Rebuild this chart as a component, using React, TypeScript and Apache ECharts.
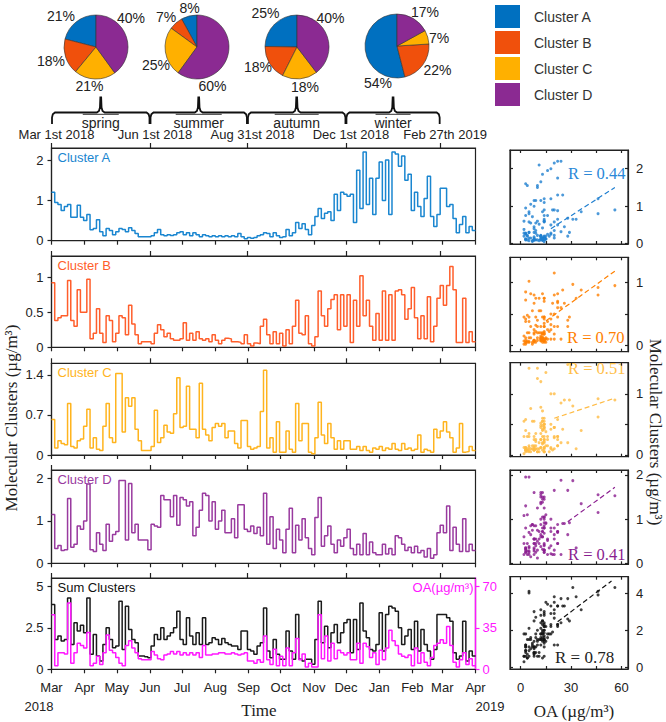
import React, { useEffect, useRef } from 'react';
import * as echarts from 'echarts';

// ---------- tick positions / labels (days since 1 Mar 2018) ----------
const monthDays = [0, 31, 61, 92, 122, 153, 184, 214, 245, 275, 306, 337, 365, 396];
const monthLabels = ['Mar', 'Apr', 'May', 'Jun', 'Jul', 'Aug', 'Sep', 'Oct', 'Nov', 'Dec', 'Jan', 'Feb', 'Mar', 'Apr'];
const seasonDays = [0, 92, 183, 275, 363];
const seasonLabels = ['Mar 1st 2018', 'Jun 1st 2018', 'Aug 31st 2018', 'Dec 1st 2018', 'Feb 27th 2019'];
const seasonNames = ['spring', 'summer', 'autumn', 'winter'];
const yearLabels = ['2018', '2019'];

// ---------- pies (% per season) ----------
const clusterNames = ['Cluster A', 'Cluster B', 'Cluster C', 'Cluster D'];
const pieSpring = [21, 18, 21, 40];
const pieSummer = [8, 7, 25, 60];
const pieAutumn = [25, 18, 18, 40];
const pieWinter = [54, 22, 7, 17];

// ---------- time series, one value per 3-day step from 1 Mar 2018 ----------
const STEP_DAYS = 3;
const clusterA = [
  1.2, 0.95, 0.9, 0.75, 0.85, 0.9, 0.58, 0.58, 0.88, 0.58, 0.5,
  0.65, 0.27, 0.3, 0.52, 0.22, 0.12, 0.3, 0.25, 0.15, 0.22,
  0.3, 0.28, 0.22, 0.32, 0.25, 0.18, 0.1, 0.1, 0.1, 0.1,
  0.12, 0.2, 0.28, 0.15, 0.12, 0.15, 0.13, 0.15, 0.2, 0.22,
  0.15, 0.2, 0.12, 0.2, 0.15, 0.1, 0.15, 0.12, 0.1, 0.12,
  0.1, 0.12, 0.1, 0.12, 0.1, 0.12, 0.1, 0.18, 0.1, 0.05, 0.08,
  0.06, 0.08, 0.12, 0.15, 0.2, 0.18, 0.1, 0.2, 0.12, 0.08,
  0.1, 0.28, 0.12, 0.2, 0.45, 0.3, 0.42, 0.28, 0.15, 0.38,
  0.6, 0.8, 0.55, 0.68, 0.72, 0.5, 1.15, 0.75, 1.2, 1.15,
  1.1, 1.15, 0.45, 1.75, 0.8, 2.2, 0.9, 1.55, 0.65, 1.55,
  1.95, 1.0, 2.0, 0.65, 2.2, 2.15, 1.85, 2.1, 1.5, 1.65, 0.75,
  1.2, 0.85, 0.6, 1.05, 1.6, 0.6, 0.35, 0.65, 1.3,
  1.3, 0.85, 0.9, 0.55, 0.2, 0.4, 0.6, 0.2, 0.35, 0.25,
];
const clusterB = [
  0.92, 0.38, 0.42, 0.45, 0.45, 0.95, 0.38, 0.3, 0.82, 0.5, 0.5,
  0.97, 0.12, 0.2, 0.55, 0.2, 0.07, 0.45, 0.38, 0.08, 0.2,
  0.45, 0.42, 0.18, 0.6, 0.33, 0.18, 0.05, 0.08, 0.08, 0.08,
  0.05, 0.2, 0.32, 0.25, 0.15, 0.2, 0.12, 0.1, 0.1, 0.12,
  0.35, 0.1, 0.2, 0.1, 0.22, 0.12, 0.1, 0.12, 0.08, 0.18,
  0.1, 0.05, 0.1, 0.13, 0.12, 0.08, 0.08, 0.07, 0.05, 0.18, 0.05,
  0.02, 0.06, 0.05, 0.3, 0.4, 0.18, 0.05, 0.22, 0.05, 0.2,
  0.02, 0.25, 0.05, 0.3, 0.67, 0.2, 0.18, 0.45, 0.05, 0.02,
  0.15, 0.8, 0.45, 0.3, 0.55, 0.68, 0.75, 0.25, 0.75, 0.3,
  0.75, 0.07, 0.67, 0.3, 1.02, 0.45, 0.67, 0.3, 0.1, 0.48,
  0.1, 0.8, 0.1, 0.75, 0.1, 0.8, 0.82, 0.75, 0.4, 0.55, 0.85,
  0.42, 0.12, 0.45, 0.12, 0.72, 0.08, 0.3, 0.7, 0.88,
  0.6, 0.88, 1.15, 0.82, 0.07, 0.07, 0.7, 0.07, 0.22, 0.08,
];
const clusterC = [
  0.62, 0.12, 0.25, 0.2, 0.18, 0.9, 0.15, 0.12, 0.25, 0.28, 0.5,
  0.8, 0.12, 0.3, 0.1, 0.08, 0.5, 0.9, 0.3, 0.22, 1.42,
  1.42, 0.4, 1.0, 0.85, 1.0, 0.45, 0.25, 0.08, 0.08, 0.08,
  0.15, 0.78, 0.22, 0.3, 0.52, 0.4, 0.38, 0.72, 1.35, 0.48,
  0.5, 1.2, 0.45, 0.45, 0.3, 1.25, 0.45, 0.35, 0.25, 0.48,
  0.55, 0.5, 0.55, 0.3, 0.42, 0.42, 0.2, 0.12, 0.6, 0.6, 0.15,
  0.1, 0.12, 0.15, 0.76, 1.48, 0.12, 0.3, 0.05, 0.58, 0.05,
  0.05, 0.42, 0.1, 0.05, 0.9, 0.25, 0.55, 0.55, 0.05, 0.02,
  0.3, 0.92, 0.35, 0.2, 0.55, 0.3, 0.1, 0.25, 0.1, 0.25,
  0.25, 0.1, 0.1, 0.15, 0.08, 0.15, 0.08, 0.05, 0.12, 0.1,
  0.15, 0.08, 0.12, 0.1, 0.2, 0.1, 0.08, 0.2, 0.1, 0.12, 0.08,
  0.1, 0.35, 0.05, 0.1, 0.08, 0.05, 0.45, 0.3, 0.42,
  0.58, 0.4, 0.3, 0.05, 0.12, 0.55, 0.05, 0.06, 0.15, 0.08,
];
const clusterD = [
  1.15, 0.35, 0.42, 0.3, 0.32, 1.53, 0.38, 0.45, 0.88, 0.8, 1.0,
  1.87, 0.32, 0.28, 0.72, 0.45, 0.3, 0.92, 0.52, 0.68, 0.75,
  1.95, 1.95, 0.55, 1.88, 0.72, 0.92, 0.55, 0.55, 0.55, 0.32,
  0.92, 0.88, 0.85, 1.6, 1.5, 1.5, 1.1, 1.6, 0.9, 1.55,
  1.5, 1.35, 1.45, 0.65, 0.85, 1.25, 1.65, 1.6, 1.0, 1.45,
  0.8, 1.0, 1.25, 0.72, 0.72, 1.05, 0.6, 1.38, 1.38, 0.8, 0.75,
  0.88, 0.7, 0.85, 0.65, 1.65, 0.45, 1.1, 0.35, 0.8, 0.55,
  0.25, 0.8, 1.3, 0.25, 0.9, 0.55, 1.05, 0.6, 0.35, 0.2,
  1.08, 1.55, 0.4, 0.65, 0.88, 0.45, 0.25, 0.55, 0.4, 0.6,
  0.8, 0.35, 0.2, 0.45, 0.2, 0.7, 0.2, 0.5, 0.25, 0.2,
  0.2, 0.45, 0.22, 0.35, 0.2, 0.65, 0.6, 0.45, 0.3, 0.38, 0.25,
  0.4, 0.25, 0.3, 0.15, 0.35, 0.12, 0.2, 0.72, 0.9,
  0.72, 1.35, 0.3, 0.85, 0.45, 0.28, 1.05, 0.28, 0.45, 0.3,
];
const sumClusters = [
  3.9, 1.8, 2.0, 1.7, 1.8, 4.3, 1.5, 2.8, 2.3, 2.65, 2.2,
  4.3, 0.9, 2.1, 0.8, 0.5, 1.5, 2.5, 1.8, 1.3, 1.4,
  4.1, 1.2, 3.8, 2.4, 1.8, 1.6, 0.8, 0.8, 0.75, 0.7,
  1.4, 2.1, 1.8, 2.5, 1.8, 2.0, 2.2, 2.5, 3.5, 1.8,
  1.5, 3.1, 2.0, 1.5, 2.2, 1.5, 3.1, 1.5, 1.6, 1.9,
  1.8, 1.5, 1.85, 1.6, 1.5, 1.4, 1.4, 1.2, 2.3, 2.3, 1.2,
  1.1, 0.9, 1.4, 1.6, 3.7, 1.1, 0.7, 1.8, 0.9, 0.6,
  0.6, 2.3, 1.1, 0.6, 3.3, 0.6, 0.5, 0.6, 0.6, 0.3,
  1.8, 4.1, 1.6, 2.6, 1.3, 2.2, 2.7, 1.6, 2.2, 2.8,
  3.0, 1.0, 3.0, 1.2, 4.0, 2.3, 1.9, 1.2, 1.1, 1.5,
  3.4, 1.1, 3.3, 3.8, 3.7, 3.5, 2.5, 1.5, 2.0, 2.4, 1.2,
  2.9, 1.1, 2.4, 1.5, 1.1, 0.6, 1.2, 3.3, 3.3,
  3.3, 3.1, 2.9, 1.0, 0.6, 0.8, 2.9, 0.5, 1.1, 0.8,
];
const oa = [
  46, 3, 14, 14, 13, 56, 5, 14, 22, 20, 18,
  31, 3, 5, 11, 4, 14, 29, 16, 14, 10,
  5, 3, 20, 24, 18, 14, 9, 8, 8, 8,
  15, 12, 9, 8, 12, 13, 15, 13, 15, 12,
  14, 12, 14, 12, 14, 10, 20, 12, 12, 13,
  13, 14, 14, 13, 13, 14, 13, 12, 13, 14, 7,
  7, 5, 8, 6, 28, 8, 4, 17, 3, 11,
  3, 18, 3, 14, 26, 8, 13, 2, 5, 2,
  2, 46, 9, 28, 7, 22, 9, 16, 14, 12,
  14, 8, 8, 22, 5, 22, 19, 10, 14, 4,
  16, 8, 18, 33, 24, 20, 13, 11, 10, 12, 3,
  18, 5, 14, 6, 3, 10, 20, 22, 25,
  22, 36, 20, 6, 2, 8, 14, 4, 9, 3,
];

// ---------- regression lines ----------
const fitA = [[18, 0.4], [56, 1.5]];
const fitB = [[15, 0.39], [56, 1.18]];
const fitC = [[20, 0.6], [56, 0.93]];
const fitD = [[28, 0.94], [56, 1.72]];
const fitE = [[22, 2.45], [54, 4.65]];
const rValues = ['R = 0.44', 'R = 0.70', 'R = 0.51', 'R = 0.41', 'R = 0.78'];

// ---------- styling / layout ----------
const SANS = "'Liberation Sans', Arial, Helvetica, sans-serif";
const SERIF = "'Liberation Serif', 'Times New Roman', serif";
const INK = '#222';
const pieColors = ['#0070C0', '#F0500C', '#FFB000', '#8B2A92'];
const lineColors = ['#1a86d0', '#ff5e2b', '#ffb41e', '#993a9f', '#1a1a1a'];
const oaColor = '#ff17ff';
const dotColors = ['#1f7fd0', '#ff8000', '#ffbb44', '#8a1d8f', '#111111'];
const rColors = ['#2a88d8', '#ff8000', '#ffc04a', '#8a1d8f', '#222222'];
const panelLabels = ['Cluster A', 'Cluster B', 'Cluster C', 'Cluster D', 'Sum Clusters'];
const panelLabelColors = ['#1a86d0', '#ff5e2b', '#ffb41e', '#993a9f', '#111'];

const TS_LEFT = 51.5;
const TS_W = 424;
const tsLayout = [
  { top: 148, height: 92.7 },
  { top: 256, height: 91.3 },
  { top: 363.3, height: 91.7 },
  { top: 470, height: 93.3 },
  { top: 578, height: 91.3 },
];
const tsRange = [[0, 2.3], [0, 1.3], [0, 1.6], [0, 2.2], [0, 5.5]];
const tsTicks = [[0, 1, 2], [0, 0.5, 1], [0, 0.7, 1.4], [0, 1, 2], [0, 2.5, 5]];
const oaRange = [0, 77];
const oaTicks = [0, 35, 70];

const SC_LEFT = 510;
const SC_W = 118;
const scLayout = [
  { top: 150, height: 94 },
  { top: 257.3, height: 94.4 },
  { top: 362.7, height: 94 },
  { top: 470, height: 94.3 },
  { top: 576.7, height: 92.3 },
];
const scYRange = [[-0.01, 2.5], [-0.1, 1.4], [-0.03, 1.51], [-0.02, 2.11], [-0.09, 4.88]];
const scYLabels = [[0, 1, 2], [0, 1], [0, 1], [0, 1, 2], [0, 2, 4]];
const scYTicks = [[0, 1, 2], [0, 0.5, 1], [0, 0.5, 1], [0, 1, 2], [0, 2, 4]];
const scXRange = [-6.3, 63.8];
const scXTicks = [0, 15, 30, 45, 60];
const scXLabels = [0, 30, 60];

const pieCenters = [[96, 47], [197, 47], [297, 47], [397, 46]];
// label anchor points for each pie (A, B, C, D), placed as in the figure
const pieLabelPos = [
  [[61, 16], [51, 61], [89.5, 86], [131, 18]],
  [[189.5, 7.5], [166, 17], [156, 65], [212.5, 86]],
  [[265.5, 13], [258, 66.7], [305, 87], [330.5, 17.7]],
  [[378, 83], [437.5, 70], [439, 38], [425, 11.7]],
];
const overlineWidths = [36, 46, 44, 35];

function buildOption() {
  const lineStyleAx = { color: INK, width: 1.2 };
  const grids: any[] = [];
  tsLayout.forEach((g) => grids.push({ left: TS_LEFT, width: TS_W, top: g.top, height: g.height, show: true, borderColor: INK, borderWidth: 1.2, backgroundColor: 'transparent', containLabel: false }));
  scLayout.forEach((g) => grids.push({ left: SC_LEFT, width: SC_W, top: g.top, height: g.height, show: true, borderColor: INK, borderWidth: 1.2, backgroundColor: 'transparent', containLabel: false }));

  const xAxes: any[] = [];
  tsLayout.forEach((_, i) => xAxes.push({
    type: 'value', gridIndex: i, min: 0, max: 396, position: 'bottom',
    axisLine: { show: true, onZero: false, lineStyle: lineStyleAx },
    axisTick: { show: true, inside: false, length: 4, customValues: monthDays, lineStyle: lineStyleAx },
    axisLabel: i === 4 ? {
      show: true, customValues: monthDays, margin: 12, fontSize: 13, color: INK, fontFamily: SANS,
      formatter: (v: number) => monthLabels[monthDays.indexOf(Math.round(v))] ?? '',
    } : { show: false },
    splitLine: { show: false },
  }));
  tsLayout.forEach((_, i) => xAxes.push({
    type: 'value', gridIndex: i, min: 0, max: 396, position: 'top',
    axisLine: { show: true, onZero: false, lineStyle: lineStyleAx },
    axisTick: { show: true, inside: false, length: 5, customValues: seasonDays, lineStyle: lineStyleAx },
    axisLabel: i === 0 ? {
      show: true, customValues: seasonDays, margin: 7, fontSize: 13, color: INK, fontFamily: SANS,
      padding: [0, 0, 0, 10],
      formatter: (v: number) => seasonLabels[seasonDays.indexOf(Math.round(v))] ?? '',
    } : { show: false },
    splitLine: { show: false },
  }));
  scLayout.forEach((_, i) => xAxes.push({
    type: 'value', gridIndex: 5 + i, min: scXRange[0], max: scXRange[1], position: 'bottom',
    axisLine: { show: true, onZero: false, lineStyle: lineStyleAx },
    axisTick: { show: true, inside: true, length: 3, customValues: scXTicks, lineStyle: lineStyleAx },
    axisLabel: i === 4 ? { show: true, customValues: scXLabels, margin: 12, fontSize: 13, color: INK, fontFamily: SANS } : { show: false },
    splitLine: { show: false },
  }));
  scLayout.forEach((_, i) => xAxes.push({
    type: 'value', gridIndex: 5 + i, min: scXRange[0], max: scXRange[1], position: 'top',
    axisLine: { show: true, onZero: false, lineStyle: lineStyleAx },
    axisTick: { show: true, inside: true, length: 3, customValues: scXTicks, lineStyle: lineStyleAx },
    axisLabel: { show: false },
    splitLine: { show: false },
  }));

  const yAxes: any[] = [];
  tsLayout.forEach((_, i) => yAxes.push({
    type: 'value', gridIndex: i, min: tsRange[i][0], max: tsRange[i][1], position: 'left',
    axisLine: { show: true, onZero: false, lineStyle: lineStyleAx },
    axisTick: { show: true, inside: false, length: 4, customValues: tsTicks[i], lineStyle: lineStyleAx },
    axisLabel: { show: true, customValues: tsTicks[i], margin: 8, fontSize: 13, color: INK, fontFamily: SANS },
    splitLine: { show: false },
  }));
  yAxes.push({
    type: 'value', gridIndex: 4, min: oaRange[0], max: oaRange[1], position: 'right',
    axisLine: { show: true, onZero: false, lineStyle: { color: oaColor, width: 1.4 } },
    axisTick: { show: true, inside: false, length: 4, customValues: oaTicks, lineStyle: { color: oaColor, width: 1.2 } },
    axisLabel: { show: true, customValues: oaTicks, margin: 7, fontSize: 13, color: oaColor, fontFamily: SANS },
    splitLine: { show: false },
  });
  scLayout.forEach((_, i) => yAxes.push({
    type: 'value', gridIndex: 5 + i, min: scYRange[i][0], max: scYRange[i][1], position: 'right',
    axisLine: { show: true, onZero: false, lineStyle: lineStyleAx },
    axisTick: { show: true, inside: true, length: 3, customValues: scYTicks[i], lineStyle: lineStyleAx },
    axisLabel: { show: true, customValues: scYLabels[i], margin: 8, fontSize: 13, color: INK, fontFamily: SANS },
    splitLine: { show: false },
  }));
  scLayout.forEach((_, i) => yAxes.push({
    type: 'value', gridIndex: 5 + i, min: scYRange[i][0], max: scYRange[i][1], position: 'left',
    axisLine: { show: true, onZero: false, lineStyle: lineStyleAx },
    axisTick: { show: true, inside: true, length: 3, customValues: scYTicks[i], lineStyle: lineStyleAx },
    axisLabel: { show: false },
    splitLine: { show: false },
  }));

  const tsSeriesValues = [clusterA, clusterB, clusterC, clusterD, sumClusters];
  const toStep = (vals: number[]) => {
    const pts = vals.map((v, k) => [k * STEP_DAYS, v]);
    pts.push([396, vals[vals.length - 1]]);
    return pts;
  };
  const series: any[] = [];
  tsSeriesValues.forEach((vals, i) => series.push({
    type: 'line', name: 'ts' + i, xAxisIndex: i, yAxisIndex: i, step: 'end',
    symbol: 'none', showSymbol: false, silent: true,
    lineStyle: { color: lineColors[i], width: 1.5 },
    data: toStep(vals),
  }));
  series.push({
    type: 'line', name: 'OA', xAxisIndex: 4, yAxisIndex: 5, step: 'end',
    symbol: 'none', showSymbol: false, silent: true,
    lineStyle: { color: oaColor, width: 1.5 },
    data: toStep(oa),
  });
  const fits = [fitA, fitB, fitC, fitD, fitE];
  tsSeriesValues.forEach((vals, i) => {
    series.push({
      type: 'scatter', name: 'sc' + i, xAxisIndex: 10 + i, yAxisIndex: 6 + i,
      symbol: 'circle', symbolSize: 3, silent: true,
      itemStyle: { color: dotColors[i] },
      data: vals.map((v, k) => [oa[k], v]),
    });
    series.push({
      type: 'line', name: 'fit' + i, xAxisIndex: 10 + i, yAxisIndex: 6 + i,
      symbol: 'none', showSymbol: false, silent: true,
      lineStyle: { color: dotColors[i], width: 1.2, type: [5, 3] },
      data: fits[i],
    });
  });
  const pies = [pieSpring, pieSummer, pieAutumn, pieWinter];
  pies.forEach((vals, p) => series.push({
    type: 'pie', name: seasonNames[p], center: pieCenters[p], radius: 32,
    startAngle: 90, clockwise: false, avoidLabelOverlap: false, silent: true,
    label: { show: false },
    labelLine: { show: false },
    itemStyle: { borderColor: '#333', borderWidth: 0.6 },
    emphasis: { disabled: true },
    data: clusterNames.map((n, k) => ({ name: n, value: vals[k], itemStyle: { color: pieColors[k] } })),
  }));

  return {
    animation: false,
    backgroundColor: '#ffffff',
    textStyle: { fontFamily: SANS },
    legend: {
      data: clusterNames, orient: 'vertical', left: 495, top: 5, padding: 0,
      itemWidth: 25, itemHeight: 23, itemGap: 3, icon: 'rect', selectedMode: false,
      itemStyle: { borderWidth: 0 },
      textStyle: { fontSize: 14, color: '#333', fontFamily: SANS, padding: [0, 0, 0, 9] },
    },
    grid: grids,
    xAxis: xAxes,
    yAxis: yAxes,
    series,
  };
}

function buildGraphics(px: (d: number) => number) {
  const els: any[] = [];
  const txt = (text: string, x: number, y: number, size: number, color: string, family: string, align = 'center', rotation = 0) => ({
    type: 'text', x, y, rotation, silent: true,
    style: { text, fill: color, fontSize: size, fontFamily: family, align, verticalAlign: 'middle', textAlign: align, textVerticalAlign: 'middle' },
  });
  // pie percentage labels
  const pies = [pieSpring, pieSummer, pieAutumn, pieWinter];
  pies.forEach((vals, p) => vals.forEach((v, k) => {
    els.push(txt(v + '%', pieLabelPos[p][k][0], pieLabelPos[p][k][1], 14, INK, SANS));
  }));
  // braces + season names
  for (let s = 0; s < 4; s++) {
    const xa = px(seasonDays[s]);
    const xb = px(seasonDays[s + 1]);
    const m = (xa + xb) / 2;
    els.push({
      type: 'polyline', silent: true,
      shape: {
        points: [
          [xa + 0.5, 124], [xa + 0.5, 117.5], [xa + 1.3, 114.3], [xa + 3.5, 112.5],
          [m - 4, 112.5], [m - 1.8, 111], [m - 0.8, 107.5], [m - 0.4, 97.5], [m + 0.4, 97.5],
          [m + 0.8, 107.5], [m + 1.8, 111], [m + 4, 112.5],
          [xb - 3.5, 112.5], [xb - 1.3, 114.3], [xb - 0.5, 117.5], [xb - 0.5, 124],
        ],
      },
      style: { stroke: '#111', lineWidth: 1.8, fill: null },
    });
    els.push({
      type: 'line', silent: true,
      shape: { x1: m - overlineWidths[s] / 2, y1: 114.3, x2: m + overlineWidths[s] / 2, y2: 114.3 },
      style: { stroke: '#333', lineWidth: 1 },
    });
    els.push(txt(seasonNames[s], m, 122.5, 14, INK, SANS));
  }
  tsLayout.forEach((g, i) => els.push(txt(panelLabels[i], TS_LEFT + 6, g.top + 9.5, 13, panelLabelColors[i], SANS, 'left')));
  els.push(txt('OA(µg/m³)', TS_LEFT + TS_W - 2, tsLayout[4].top + 9.5, 13, oaColor, SANS, 'right'));
  const rPos = [[568, 173], [567, 337], [568, 368], [568, 554], [555, 657]];
  rValues.forEach((r, i) => els.push(txt(r, rPos[i][0], rPos[i][1], i === 4 ? 17 : 16.5, rColors[i], SERIF, 'left')));
  els.push(txt('Molecular Clusters (µg/m³)', 11, 418, 17, INK, SERIF, 'center', Math.PI / 2));
  els.push(txt('Molecular Clusters (µg/m³)', 655, 432, 17, INK, SERIF, 'center', -Math.PI / 2));
  els.push(txt('Time', 259, 710, 17, INK, SERIF));
  els.push(txt('OA (µg/m³)', 574, 711, 17, INK, SERIF));
  els.push(txt(yearLabels[0], 39, 706, 13, INK, SANS));
  els.push(txt(yearLabels[1], 490, 706, 13, INK, SANS));
  return els;
}

export default function App() {
  const ref = useRef<HTMLDivElement>(null);
  useEffect(() => {
    if (!ref.current) return;
    const chart = echarts.init(ref.current, null, { renderer: 'svg', width: 666, height: 722 });
    chart.setOption(buildOption() as any);
    const px = (d: number) => {
      const v = chart.convertToPixel({ xAxisIndex: 5 } as any, d) as any;
      return typeof v === 'number' ? v : TS_LEFT + (d / 396) * TS_W;
    };
    chart.setOption({ graphic: { elements: buildGraphics(px) } } as any);
    return () => chart.dispose();
  }, []);
  return (
    <div
      ref={ref}
      style={{ position: 'fixed', left: 0, top: 0, width: 666, height: 722, background: '#fff' }}
    />
  );
}
